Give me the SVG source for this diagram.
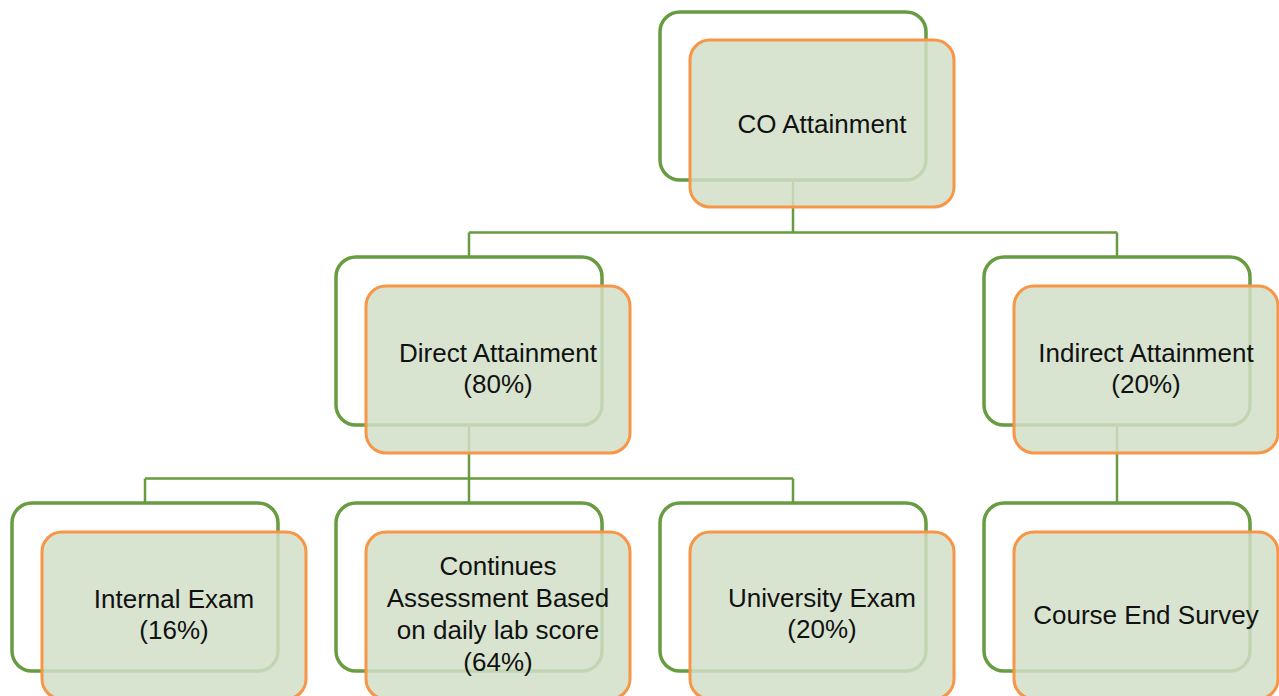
<svg xmlns="http://www.w3.org/2000/svg" width="1279" height="696" viewBox="0 0 1279 696">
<style>
.frame{fill:none;stroke:#679C40;stroke-width:3.5}
.box{fill:rgb(209,223,200);fill-opacity:0.85;stroke:#F79646;stroke-width:3}
.lbl{font-family:"Liberation Sans",Arial,sans-serif;font-size:26px;fill:#111;text-anchor:middle}
.conn{fill:none;stroke:#679C40;stroke-width:2.5}
</style>
<rect width="1279" height="696" fill="#fff"/>
<g id="connectors">
<path class="conn" d="M793 180V232.5M469 232.5H1117M469 232.5V257M1117 232.5V257"/>
<path class="conn" d="M469 425V478.5M145 478.5H793M145 478.5V503M469 478.5V503M793 478.5V503"/>
<path class="conn" d="M1117 425V503"/>
</g>
<g id="co-attainment">
<rect class="frame" x="660" y="12" width="266" height="168" rx="20"/>
<rect class="box" x="690" y="40" width="264" height="167" rx="20"/>
<text class="lbl" x="822" y="133">CO Attainment</text>
</g>
<g id="direct-attainment">
<rect class="frame" x="336" y="257" width="266" height="168" rx="20"/>
<rect class="box" x="366" y="286" width="264" height="167" rx="20"/>
<text class="lbl" x="498" y="362">Direct Attainment</text>
<text class="lbl" x="498" y="393">(80%)</text>
</g>
<g id="indirect-attainment">
<rect class="frame" x="984" y="257" width="266" height="168" rx="20"/>
<rect class="box" x="1014" y="286" width="264" height="167" rx="20"/>
<text class="lbl" x="1146" y="362">Indirect Attainment</text>
<text class="lbl" x="1146" y="393">(20%)</text>
</g>
<g id="internal-exam">
<rect class="frame" x="12" y="503" width="266" height="168" rx="20"/>
<rect class="box" x="42" y="532" width="264" height="167" rx="20"/>
<text class="lbl" x="174" y="608">Internal Exam</text>
<text class="lbl" x="174" y="639">(16%)</text>
</g>
<g id="continues-assessment">
<rect class="frame" x="336" y="503" width="266" height="168" rx="20"/>
<rect class="box" x="366" y="532" width="264" height="167" rx="20"/>
<text class="lbl" x="498" y="575">Continues</text>
<text class="lbl" x="498" y="607">Assessment Based</text>
<text class="lbl" x="498" y="639">on daily lab score</text>
<text class="lbl" x="498" y="671">(64%)</text>
</g>
<g id="university-exam">
<rect class="frame" x="660" y="503" width="266" height="168" rx="20"/>
<rect class="box" x="690" y="532" width="264" height="167" rx="20"/>
<text class="lbl" x="822" y="607">University Exam</text>
<text class="lbl" x="822" y="638">(20%)</text>
</g>
<g id="course-end-survey">
<rect class="frame" x="984" y="503" width="266" height="168" rx="20"/>
<rect class="box" x="1014" y="532" width="264" height="167" rx="20"/>
<text class="lbl" x="1146" y="624">Course End Survey</text>
</g>
</svg>
